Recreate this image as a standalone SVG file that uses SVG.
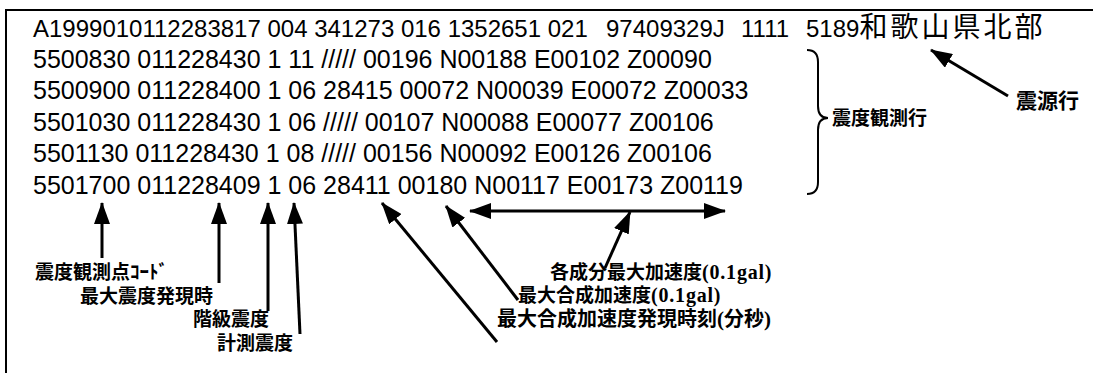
<svg xmlns="http://www.w3.org/2000/svg" width="1111" height="380" viewBox="0 0 1111 380">
<defs>
<marker id="ah" markerWidth="22" markerHeight="16" viewBox="0 0 22 16" refX="21" refY="8" orient="auto" markerUnits="userSpaceOnUse">
<path d="M0,0 L22,8 L0,16 Z" fill="#000"/>
</marker>
<style>
.row{font-family:"Liberation Sans",Arial,"Noto Sans CJK JP",sans-serif;font-size:25px;fill:#000}
.r1{font-size:24px}
.cjk{font-family:"Noto Sans CJK JP",sans-serif;font-size:28px;letter-spacing:3px}
.lbl{font-family:"Noto Sans CJK JP",sans-serif;font-size:19px;font-weight:bold;fill:#000}
.ser{font-family:"Liberation Serif","Times New Roman",serif;font-weight:bold;font-size:20px;letter-spacing:0.8px}
.par{font-family:"Liberation Serif","Times New Roman",serif;font-weight:bold;font-size:21px}
.ln{stroke:#000;stroke-width:3;fill:none}
</style>
</defs>
<rect width="1111" height="380" fill="#fff"/>
<g id="frame" stroke="#000" stroke-width="2" fill="none">
<path d="M6,373 L6,10 L1093,10"/>
</g>
<g id="data-rows" class="row">
<text class="r1" x="33" y="37">A1999010112283817 004 341273 016 1352651 021</text>
<text class="r1" x="606" y="37">97409329J</text>
<text class="r1" x="741" y="37">1111</text>
<text class="r1" x="806" y="37">5189<tspan class="cjk">和歌山県北部</tspan></text>
<text x="33" y="68">5500830 011228430 1 11 ///// 00196 N00188 E00102 Z00090</text>
<text x="33" y="99">5500900 011228400 1 06 28415 00072 N00039 E00072 Z00033</text>
<text x="33" y="131">5501030 011228430 1 06 ///// 00107 N00088 E00077 Z00106</text>
<text x="33" y="162">5501130 011228430 1 08 ///// 00156 N00092 E00126 Z00106</text>
<text x="33" y="194">5501700 011228409 1 06 28411 00180 N00117 E00173 Z00119</text>
</g>
<g id="label-station-code"><text class="lbl" x="35" y="279">震度観測点ｺｰﾄﾞ</text></g>
<g id="label-max-time"><text class="lbl" x="80" y="303">最大震度発現時</text></g>
<g id="label-class-intensity"><text class="lbl" x="193" y="326">階級震度</text></g>
<g id="label-measured-intensity"><text class="lbl" x="217" y="350">計測震度</text></g>
<g id="label-component-acc"><text class="lbl" x="550" y="279">各成分最大加速度<tspan class="ser">(0.1gal)</tspan></text></g>
<g id="label-max-acc"><text class="lbl" x="518" y="302">最大合成加速度<tspan class="ser">(0.1gal)</tspan></text></g>
<g id="label-max-acc-time"><text class="lbl" x="497" y="326" style="font-size:20px">最大合成加速度発現時刻<tspan class="par">(</tspan>分秒<tspan class="par">)</tspan></text></g>
<g id="label-observation-rows"><text class="lbl" x="832" y="125">震度観測行</text></g>
<g id="label-source-row"><text class="lbl" x="1016" y="108" style="font-size:21px">震源行</text></g>
<g id="connectors" class="ln">
<path d="M102,258 L102,203" marker-end="url(#ah)"/>
<path d="M219,283 L219,203" marker-end="url(#ah)"/>
<path d="M268,311 L268,203" marker-end="url(#ah)"/>
<path d="M300,334 L294,203" marker-end="url(#ah)"/>
<path d="M497,342 L382,203" marker-end="url(#ah)"/>
<path d="M518,300 L446,206" marker-end="url(#ah)"/>
<path d="M600,211 L470,211" marker-end="url(#ah)"/>
<path d="M600,211 L725,211" marker-end="url(#ah)"/>
<path d="M605,268 L630,212" marker-end="url(#ah)"/>
<path d="M1008,96 L931,50" marker-end="url(#ah)"/>
<path d="M807,50 Q818,50 818,62 L818,106 Q818,118 828,118 Q818,118 818,130 L818,182 Q818,194 807,194" stroke-width="2"/>
</g>
</svg>
